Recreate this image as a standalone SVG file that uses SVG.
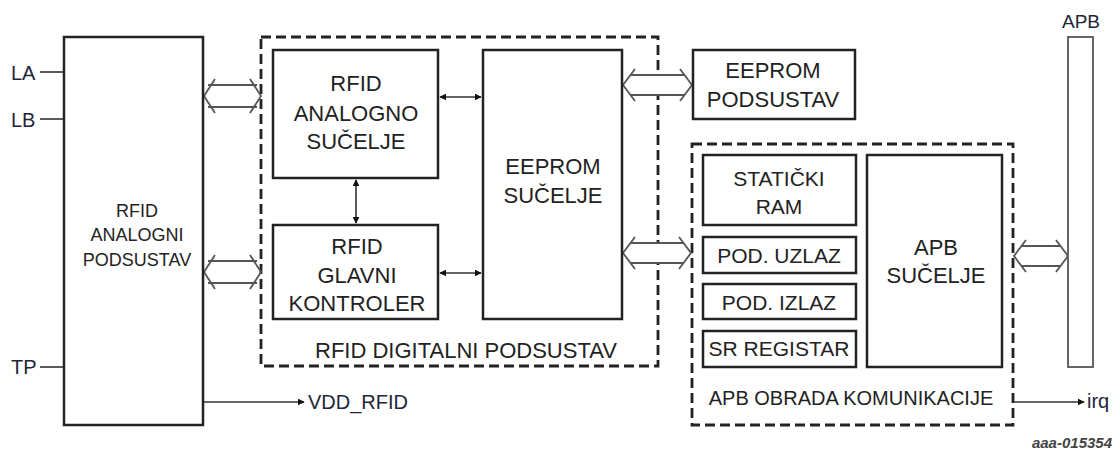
<svg xmlns="http://www.w3.org/2000/svg" width="1116" height="450" viewBox="0 0 1116 450">
  <defs>
    <style>
      .box { fill: #fff; stroke: #222; stroke-width: 2.5; }
      .dash { fill: none; stroke: #222; stroke-width: 2.8; stroke-dasharray: 10 5; }
      .t { font-family: "Liberation Sans", Arial, sans-serif; font-size: 21px; fill: #222; text-anchor: middle; }
      .lbl { font-family: "Liberation Sans", Arial, sans-serif; font-size: 20px; fill: #1e2638; }
      .wire { fill: none; stroke: #333; stroke-width: 1.6; }
      .bus { fill: none; stroke: #555; stroke-width: 1.8; }
      .busfill { fill: #fff; stroke: none; }
    </style>
    <marker id="ah" viewBox="0 0 10 10" refX="9" refY="5" markerWidth="7" markerHeight="7" markerUnits="userSpaceOnUse" orient="auto-start-reverse">
      <path d="M0,0 L10,5 L0,10 z" fill="#111"/>
    </marker>
  </defs>
  <rect width="1116" height="450" fill="#fff"/>

  <g id="rfid-digitalni-podsustav">
    <rect class="dash" x="261" y="37" width="397" height="329"/>
    <text class="t" x="466" y="358" style="font-size:22px">RFID DIGITALNI PODSUSTAV</text>
  </g>
  <g id="apb-obrada">
    <rect class="dash" x="692" y="144" width="321" height="281"/>
    <text class="t" x="851" y="405" style="font-size:20px">APB OBRADA KOMUNIKACIJE</text>
  </g>

  <g id="connectors">
    <!-- pin lines -->
    <line class="wire" x1="40" y1="72" x2="64" y2="72"/>
    <line class="wire" x1="40" y1="119" x2="64" y2="119"/>
    <line class="wire" x1="40" y1="367" x2="64" y2="367"/>
    <line class="wire" x1="203" y1="402" x2="304" y2="402" marker-end="url(#ah)"/>
    <line class="wire" x1="1013" y1="402" x2="1084" y2="402" marker-end="url(#ah)"/>
    <!-- small double arrows -->
    <line class="wire" x1="440" y1="97" x2="481" y2="97" marker-start="url(#ah)" marker-end="url(#ah)"/>
    <line class="wire" x1="440" y1="273" x2="481" y2="273" marker-start="url(#ah)" marker-end="url(#ah)"/>
    <line class="wire" x1="356" y1="180" x2="356" y2="223" marker-start="url(#ah)" marker-end="url(#ah)"/>
    <!-- bus arrows -->
    <g>
      <rect class="busfill" x="210" y="85" width="45" height="22"/>
      <path class="bus" d="M215,79 L204,96 L215,113 M250,79 L261,96 L250,113 M208,85 H257 M208,107 H257"/>
    </g>
    <g>
      <rect class="busfill" x="210" y="261" width="45" height="22"/>
      <path class="bus" d="M215,255 L204,272 L215,289 M250,255 L261,272 L250,289 M208,261 H257 M208,283 H257"/>
    </g>
    <g>
      <rect class="busfill" x="630" y="75" width="55" height="20"/>
      <path class="bus" d="M635,69 L623,85 L635,101 M680,69 L692,85 L680,101 M630,75 H685 M630,95 H685"/>
    </g>
    <g>
      <rect class="busfill" x="630" y="243" width="54" height="20"/>
      <path class="bus" d="M635,237 L623,253 L635,269 M679,237 L691,253 L679,269 M630,243 H684 M630,263 H684"/>
    </g>
    <g>
      <rect class="busfill" x="1020" y="246" width="42" height="20"/>
      <path class="bus" d="M1026,240 L1014,256 L1026,272 M1056,240 L1068,256 L1056,272 M1021,246 H1061 M1021,266 H1061"/>
    </g>
  </g>

  <g id="rfid-analogni-podsustav">
    <rect class="box" x="64" y="37" width="139" height="388"/>
    <text class="t" x="137" y="217" style="font-size:18px">RFID</text>
    <text class="t" x="137" y="241" style="font-size:18px">ANALOGNI</text>
    <text class="t" x="137" y="266" style="font-size:18px">PODSUSTAV</text>
  </g>
  <g id="pin-labels">
    <text class="lbl" x="11" y="80">LA</text>
    <text class="lbl" x="11" y="127">LB</text>
    <text class="lbl" x="11" y="374">TP</text>
    <text class="lbl" x="308" y="409">VDD_RFID</text>
    <text class="lbl" x="1087" y="408">irq</text>
  </g>
  <g id="rfid-analogno-sucelje">
    <rect class="box" x="273" y="50" width="165" height="128"/>
    <text class="t" x="356" y="91" style="font-size:22px">RFID</text>
    <text class="t" x="356" y="121" style="font-size:22px">ANALOGNO</text>
    <text class="t" x="356" y="149" style="font-size:22px">SUČELJE</text>
  </g>
  <g id="rfid-glavni-kontroler">
    <rect class="box" x="273" y="225" width="165" height="94"/>
    <text class="t" x="357" y="254" style="font-size:22px">RFID</text>
    <text class="t" x="357" y="283" style="font-size:22px">GLAVNI</text>
    <text class="t" x="357" y="311" style="font-size:22px">KONTROLER</text>
  </g>
  <g id="eeprom-sucelje">
    <rect class="box" x="483" y="50" width="139" height="269"/>
    <text class="t" x="553" y="174" style="font-size:22px">EEPROM</text>
    <text class="t" x="553" y="203" style="font-size:22px">SUČELJE</text>
  </g>
  <g id="eeprom-podsustav">
    <rect class="box" x="693" y="50" width="162" height="69"/>
    <text class="t" x="773" y="78" style="font-size:22px">EEPROM</text>
    <text class="t" x="773" y="107" style="font-size:22px">PODSUSTAV</text>
  </g>
  <g id="staticki-ram">
    <rect class="box" x="703" y="155" width="153" height="70"/>
    <text class="t" x="779" y="186">STATIČKI</text>
    <text class="t" x="779" y="214">RAM</text>
  </g>
  <g id="pod-uzlaz">
    <rect class="box" x="703" y="237" width="153" height="36"/>
    <text class="t" x="779" y="263">POD. UZLAZ</text>
  </g>
  <g id="pod-izlaz">
    <rect class="box" x="703" y="284" width="153" height="35"/>
    <text class="t" x="779" y="310">POD. IZLAZ</text>
  </g>
  <g id="sr-registar">
    <rect class="box" x="703" y="331" width="153" height="36"/>
    <text class="t" x="779" y="356">SR REGISTAR</text>
  </g>
  <g id="apb-sucelje">
    <rect class="box" x="867" y="155" width="135" height="212"/>
    <text class="t" x="936" y="255" style="font-size:22px">APB</text>
    <text class="t" x="936" y="283" style="font-size:22px">SUČELJE</text>
  </g>
  <g id="apb-bus">
    <rect x="1068" y="37" width="25" height="330" fill="#fff" stroke="#555" stroke-width="1.8"/>
    <text class="lbl" x="1081" y="28" text-anchor="middle" style="font-size:19px">APB</text>
  </g>
  <text x="1112" y="448" text-anchor="end" font-family="Liberation Sans, Arial, sans-serif" font-size="15" font-style="italic" font-weight="bold" fill="#444">aaa-015354</text>
</svg>
